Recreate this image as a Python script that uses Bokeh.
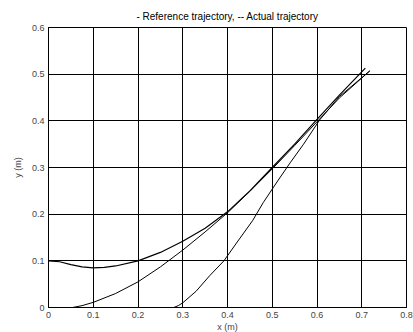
from bokeh.plotting import figure
from bokeh.models import FixedTicker, Range1d
from bokeh.embed import file_html
from bokeh.resources import INLINE

# Data
ref_x = [0.0, 0.025, 0.05, 0.075, 0.1, 0.125, 0.15, 0.2, 0.25, 0.3, 0.35, 0.4, 0.45, 0.5, 0.55, 0.6, 0.65, 0.708]
ref_y = [0.1, 0.098, 0.092, 0.087, 0.085, 0.086, 0.089, 0.1, 0.118, 0.142, 0.17, 0.205, 0.25, 0.3, 0.35, 0.403, 0.455, 0.513]

act1_x = [0.054, 0.075, 0.1, 0.15, 0.2, 0.25, 0.3, 0.35, 0.4, 0.45, 0.5, 0.55, 0.6, 0.65, 0.718]
act1_y = [0.0, 0.004, 0.011, 0.03, 0.055, 0.087, 0.123, 0.162, 0.203, 0.249, 0.297, 0.347, 0.398, 0.449, 0.507]

act2_x = [0.28, 0.29, 0.3, 0.33, 0.36, 0.392, 0.42, 0.456, 0.48, 0.512, 0.54, 0.57, 0.606, 0.65, 0.718]
act2_y = [0.0, 0.004, 0.01, 0.035, 0.068, 0.1, 0.138, 0.186, 0.225, 0.271, 0.31, 0.35, 0.402, 0.452, 0.507]

x_ticks = [0, 0.1, 0.2, 0.3, 0.4, 0.5, 0.6, 0.7, 0.8]
x_labels = ["0", "0.1", "0.2", "0.3", "0.4", "0.5", "0.6", "0.7", "0.8"]
y_ticks = [0, 0.1, 0.2, 0.3, 0.4, 0.5, 0.6]
y_labels = ["0", "0.1", "0.2", "0.3", "0.4", "0.5", "0.6"]

title_text = "- Reference trajectory, -- Actual trajectory"
x_label = "x (m)"
y_label = "y (m)"

FONT = "Liberation Sans"
FS = "9px"

p = figure(frame_width=358, frame_height=280, output_backend="svg", toolbar_location=None,
           x_range=Range1d(0, 0.8), y_range=Range1d(0, 0.6),
           min_border_left=48, min_border_right=7, min_border_top=27, min_border_bottom=0,
           title=title_text)

p.title.align = "center"
p.title.text_font = FONT
p.title.text_font_size = "10px"
p.title.text_font_style = "normal"
p.title.text_color = "black"
p.title.standoff = 11

p.outline_line_color = "black"
p.outline_line_width = 1
p.background_fill_color = "white"
p.border_fill_color = "white"

for ax, ticks, labels, lab in ((p.xaxis[0], x_ticks, x_labels, x_label),
                               (p.yaxis[0], y_ticks, y_labels, y_label)):
    ax.ticker = FixedTicker(ticks=ticks)
    ax.major_label_overrides = {t: l for t, l in zip(ticks, labels)}
    ax.axis_label = lab
    ax.axis_label_text_font = FONT
    ax.axis_label_text_font_size = FS
    ax.axis_label_text_font_style = "normal"
    ax.major_label_text_font = FONT
    ax.major_label_text_font_size = FS
    ax.major_tick_in = 4
    ax.major_tick_out = 0
    ax.minor_tick_in = 0
    ax.minor_tick_out = 0
    ax.axis_line_color = "black"
    ax.major_tick_line_color = "black"

p.xaxis.major_label_standoff = 4
p.xaxis.axis_label_standoff = 1
p.yaxis.major_label_standoff = 4
p.yaxis.axis_label_standoff = 6

p.grid.grid_line_color = "black"
p.grid.grid_line_alpha = 1
p.grid.grid_line_width = 1
p.xgrid.ticker = FixedTicker(ticks=x_ticks)
p.ygrid.ticker = FixedTicker(ticks=y_ticks)

p.line(ref_x, ref_y, line_color="black", line_width=1.2)
p.line(act1_x, act1_y, line_color="black", line_width=1)
p.line(act2_x, act2_y, line_color="black", line_width=1)

open("out.html", "w").write(file_html(p, INLINE))
